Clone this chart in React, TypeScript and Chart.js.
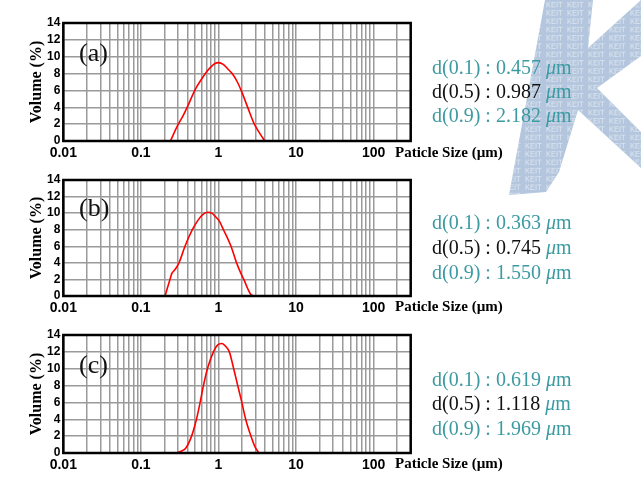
import React, { useEffect, useRef } from "react";
import { Chart, registerables } from "chart.js";

Chart.register(...registerables);

// ---------- data ----------
const sizeA = [0.24, 0.3, 0.35, 0.4, 0.5, 0.6, 0.7, 0.8, 0.9, 1.0, 1.15, 1.3, 1.5, 1.75, 2.0, 2.4, 2.9, 3.4, 3.96];
const volA = [0, 1.9, 3.0, 4.1, 6.1, 7.3, 8.2, 8.8, 9.2, 9.3, 9.1, 8.6, 8.0, 7.0, 5.8, 3.9, 2.0, 0.9, 0];

const sizeB = [0.205, 0.22, 0.237, 0.25, 0.27, 0.29, 0.313, 0.37, 0.46, 0.54, 0.62, 0.726, 0.82, 0.93, 1.03, 1.16, 1.45, 1.71, 1.95, 2.12, 2.35, 2.6, 2.8];
const volB = [0, 1.0, 2.0, 2.7, 3.1, 3.5, 4.1, 6.0, 8.0, 9.1, 9.8, 10.1, 10.0, 9.5, 9.0, 8.0, 6.0, 4.0, 2.7, 2.0, 1.0, 0.2, 0];

const sizeC = [0.285, 0.33, 0.38, 0.45, 0.52, 0.58, 0.64, 0.72, 0.86, 0.97, 1.11, 1.25, 1.38, 1.57, 1.77, 2.0, 2.24, 2.62, 3.0, 3.35];
const volC = [0, 0.2, 0.6, 2.0, 4.0, 6.0, 8.0, 10.0, 12.0, 12.8, 13.0, 12.6, 12.0, 10.0, 8.0, 6.0, 4.0, 2.0, 0.6, 0];

const panelLetters = ["(a)", "(b)", "(c)"];
const d10Values = ["0.457", "0.363", "0.619"];
const d50Values = ["0.987", "0.745", "1.118"];
const d90Values = ["2.182", "1.550", "1.969"];

const xTickValues = [0.01, 0.1, 1, 10, 100];
const xTickLabels = ["0.01", "0.1", "1", "10", "100"];
const xGridMultipliers = [1, 2, 3, 4, 5, 6, 7, 8, 9];
const xMin = 0.01;
const xMax = 300;
const yMin = 0;
const yMax = 14;
const yStep = 2;
const yTitle = "Volume (%)";
const xTitle = "Paticle Size (\u00b5m)";

// ---------- layout ----------
const plotLeft = 63.3;
const plotRight = 410.7;
const panels = [
  { plotTop: 23.4, plotH: 117.6, sizes: sizeA, vols: volA, letterY: 52.5, textY: [67, 91, 115], xTitleY: 152 },
  { plotTop: 180, plotH: 116, sizes: sizeB, vols: volB, letterY: 208, textY: [222, 247, 272], xTitleY: 306 },
  { plotTop: 335, plotH: 117.7, sizes: sizeC, vols: volC, letterY: 365, textY: [379, 403, 428], xTitleY: 463 },
];
const PAD_TOP = 23;
const XAXIS_H = 24;
const TEAL = "#3c9aa2";

const gridValues: number[] = [];
xTickValues.forEach((d) =>
  xGridMultipliers.forEach((m) => {
    const v = parseFloat((m * d).toPrecision(6));
    if (v <= xMax) gridValues.push(v);
  })
);

const framePlugin = {
  id: "frame",
  afterDraw(chart: any) {
    const { ctx, chartArea: a } = chart;
    ctx.save();
    ctx.strokeStyle = "#000";
    ctx.lineWidth = 2.5;
    ctx.strokeRect(a.left, a.top, a.right - a.left, a.bottom - a.top);
    ctx.restore();
  },
};

function Panel({ idx }: { idx: number }) {
  const ref = useRef<HTMLCanvasElement>(null);
  const p = panels[idx];
  const canvasTop = p.plotTop - PAD_TOP;
  const canvasH = Math.round(PAD_TOP + p.plotH + XAXIS_H);
  useEffect(() => {
    if (!ref.current) return;
    const points = p.sizes.map((s, i) => ({ x: s, y: p.vols[i] }));
    const chart = new Chart(ref.current, {
      type: "line",
      data: {
        datasets: [
          {
            data: points,
            borderColor: "#ff0000",
            borderWidth: 1.6,
            pointRadius: 0,
            cubicInterpolationMode: "monotone",
            fill: false,
          },
        ],
      },
      options: {
        animation: false,
        responsive: false,
        maintainAspectRatio: false,
        layout: { padding: { top: PAD_TOP, left: 0, right: 641 - plotRight, bottom: 0 } },
        plugins: { legend: { display: false }, tooltip: { enabled: false } },
        scales: {
          x: {
            type: "logarithmic",
            min: xMin,
            max: xMax,
            afterBuildTicks: (scale: any) => {
              scale.ticks = gridValues.map((v) => ({ value: v }));
            },
            afterFit: (scale: any) => {
              scale.height = XAXIS_H;
            },
            ticks: {
              autoSkip: false,
              maxRotation: 0,
              minRotation: 0,
              padding: 4,
              color: "#000",
              font: { family: "'Liberation Sans', Arial, sans-serif", size: 14, weight: "bold" },
              callback: (value: any) => {
                const i = xTickValues.findIndex((t) => Math.abs(t - Number(value)) / t < 1e-6);
                return i >= 0 ? xTickLabels[i] : "";
              },
            },
            grid: { color: "#9a9a9a", lineWidth: 1.5, drawTicks: false },
            border: { display: false },
          },
          y: {
            type: "linear",
            min: yMin,
            max: yMax,
            afterFit: (scale: any) => {
              scale.width = plotLeft;
            },
            ticks: {
              stepSize: yStep,
              autoSkip: false,
              padding: 3,
              color: "#000",
              font: { family: "'Liberation Sans', Arial, sans-serif", size: 12, weight: "bold" },
            },
            grid: { color: "#9a9a9a", lineWidth: 1.5, drawTicks: false },
            border: { display: false },
            title: {
              display: true,
              text: yTitle,
              color: "#000",
              padding: { top: 27, bottom: 0 },
              font: { family: "'Liberation Serif', 'Times New Roman', serif", size: 16, weight: "bold" },
            },
          },
        },
      },
      plugins: [framePlugin],
    } as any);
    return () => chart.destroy();
  }, [idx]);

  const lineStyle = (y: number, color: string): React.CSSProperties => ({
    position: "absolute",
    left: 432,
    top: y - 12,
    height: 24,
    lineHeight: "24px",
    fontFamily: "'Liberation Serif', 'Times New Roman', serif",
    fontSize: 20,
    color,
    whiteSpace: "nowrap",
  });
  const mu = (
    <span style={{ color: TEAL }}>
      <i>{"\u03bc"}</i>m
    </span>
  );

  return (
    <>
      <canvas
        ref={ref}
        width={641}
        height={canvasH}
        style={{ position: "absolute", left: 0, top: canvasTop, width: 641, height: canvasH }}
      />
      <div
        style={{
          position: "absolute",
          left: 79,
          top: p.letterY - 15,
          height: 30,
          lineHeight: "30px",
          fontFamily: "'Liberation Serif', 'Times New Roman', serif",
          fontSize: 26,
          color: "#111",
        }}
      >
        {panelLetters[idx]}
      </div>
      <div
        style={{
          position: "absolute",
          left: 395,
          top: p.xTitleY - 10,
          height: 20,
          lineHeight: "20px",
          fontFamily: "'Liberation Serif', 'Times New Roman', serif",
          fontSize: 15,
          fontWeight: "bold",
          color: "#000",
          whiteSpace: "nowrap",
        }}
      >
        {xTitle}
      </div>
      <div style={lineStyle(p.textY[0], TEAL)}>
        d(0.1) : {d10Values[idx]} {mu}
      </div>
      <div style={lineStyle(p.textY[1], "#111")}>
        d(0.5) : {d50Values[idx]} {mu}
      </div>
      <div style={lineStyle(p.textY[2], TEAL)}>
        d(0.9) : {d90Values[idx]} {mu}
      </div>
    </>
  );
}

function Watermark() {
  const pts = "509,195 545,0 593,0 588,48 641,0 641,56 597,88 641,132 641,168 578,110 559,172 546,192";
  return (
    <svg
      width={641}
      height={486}
      style={{ position: "absolute", left: 0, top: 0 }}
      xmlns="http://www.w3.org/2000/svg"
    >
      <defs>
        <pattern id="keit" patternUnits="userSpaceOnUse" width={21} height={8.3}>
          <text x={0} y={7} fontSize={7.5} fontFamily="'Liberation Sans', Arial, sans-serif" fill="#dfe7f1">
            KEIT
          </text>
        </pattern>
        <clipPath id="kclip">
          <polygon points={pts} />
        </clipPath>
      </defs>
      <polygon points={pts} fill="#b3c6dd" />
      <rect x={500} y={0} width={141} height={200} fill="url(#keit)" clipPath="url(#kclip)" />
    </svg>
  );
}

export default function App() {
  return (
    <div
      style={{
        position: "absolute",
        left: 0,
        top: 0,
        width: 641,
        height: 486,
        background: "#fff",
        overflow: "hidden",
      }}
    >
      <Watermark />
      <Panel idx={0} />
      <Panel idx={1} />
      <Panel idx={2} />
    </div>
  );
}
